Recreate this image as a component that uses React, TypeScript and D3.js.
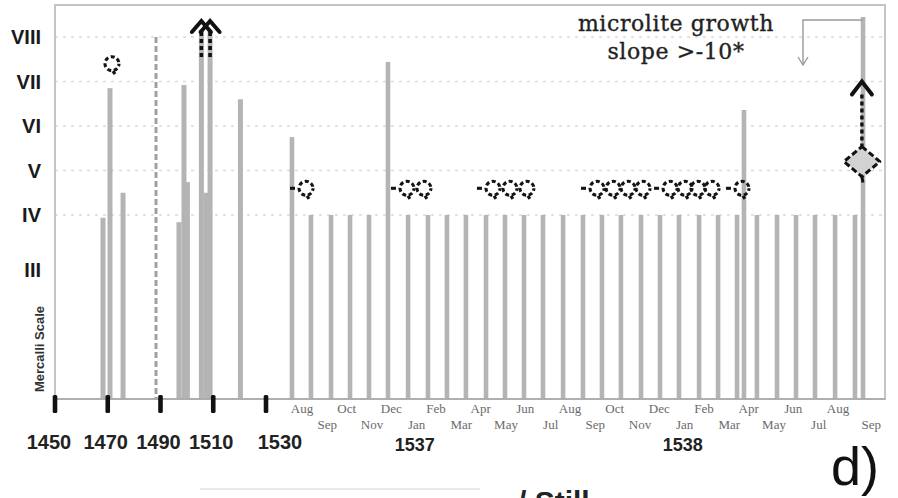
import React from "react";
import * as d3 from "d3";

// Historic eruptions (year axis) — Mercalli intensity of each event
const EARLY_YEARS = [1468.2, 1470.85, 1475.8, 1497.0, 1498.9, 1500.2, 1505.5, 1507.4, 1508.8, 1520.3];
const EARLY_LEVELS = [3.95, 6.85, 4.5, 3.87, 6.92, 4.74, 8.16, 4.5, 8.16, 6.6];
const UNCERTAIN_YEAR = 1488.3;
const UNCERTAIN_LEVEL = 8;
const RISING_YEARS = [1505.5, 1508.8];
const EARLY_ASH = [{ year: 1471.6, level: 7.4 }];

// 1536-1538 sequence (months counted from Aug 1536)
const LATE_MONTHS = [
  -0.45, 0.4, 1.3, 2.15, 3.0, 3.85, 4.75, 5.64, 6.49, 7.34, 8.24, 9.09, 9.94, 10.79, 11.69, 12.58,
  13.43, 14.28, 15.18, 16.03, 16.88, 17.78, 18.63, 19.48, 19.79, 20.37, 21.27, 22.12, 22.97, 23.87,
  24.76, 25.12,
];
const LATE_LEVELS = [
  5.75, 4, 4, 4, 4, 7.44, 4, 4, 4, 4, 4, 4, 4, 4, 4, 4,
  4, 4, 4, 4, 4, 4, 4, 4, 6.36, 4, 4, 4, 4, 4,
  4, 8.45,
];
const ASH_MONTHS = [0.18, 4.7, 5.46, 8.55, 9.31, 10.07, 13.21, 13.93, 14.6, 15.27, 16.48, 17.15, 17.73, 18.36, 19.7];
const ASH_LEVEL = 4.6;
const FINAL_MONTH = 25.07;
const FINAL_LEVEL = 5.2;
const FINAL_ARROW_LEVEL = 7;

// Axis labels
const CENTURY_TICKS = [1450, 1470, 1490, 1510, 1530];
const MONTHS = [
  "Aug", "Sep", "Oct", "Nov", "Dec", "Jan", "Feb", "Mar", "Apr", "May", "Jun", "Jul", "Aug",
  "Sep", "Oct", "Nov", "Dec", "Jan", "Feb", "Mar", "Apr", "May", "Jun", "Jul", "Aug", "Sep",
];
const YEAR_MARKS = ["1537", "1538"];
const YEAR_MARK_MONTHS = [5, 17];
const MERCALLI_VALUES = [3, 4, 5, 6, 7, 8];
const MERCALLI_LABELS = ["III", "IV", "V", "VI", "VII", "VIII"];
const GRID_VALUES = [4, 5, 6, 7, 8];

const W = 898;
const H = 498;
const LEFT = 55;
const RIGHT = 885;
const TOP = 5;
const BASE = 399;

const BAR_COLOR = "#b4b4b4";

export default function App() {
  const y = d3.scaleLinear().domain([0, 3, 4, 8]).range([BASE, 270, 215, 37]);
  const xYear = d3.scaleLinear().domain([1450, 1530]).range([LEFT, 266]);
  const xMonth = d3.scaleLinear().domain([0, 24]).range([302, 838]);

  const ashX = ASH_MONTHS.map((m) => xMonth(m));

  const ashSymbol = (cx: number, cy: number, lead: boolean, key: string) => (
    <g key={key} stroke="#141414" strokeWidth={3.1} fill="none">
      <circle cx={cx} cy={cy} r={7} strokeDasharray="4 2.6" strokeDashoffset={1.5} />
      <line x1={cx + 1} y1={cy + 7.5} x2={cx + 3} y2={cy + 10.5} />
      {lead && <line x1={cx - 16} y1={cy} x2={cx - 11} y2={cy} />}
    </g>
  );

  const chevron = (cx: number, cy: number, hw: number, hh: number) => (
    <path
      d={`M${cx - hw},${cy + hh} L${cx},${cy} L${cx + hw},${cy + hh}`}
      stroke="#111"
      strokeWidth={4}
      fill="none"
      strokeLinejoin="miter"
      strokeLinecap="round"
    />
  );

  const finalX = xMonth(FINAL_MONTH);
  const finalY = y(FINAL_LEVEL);
  const arrowTop = y(FINAL_ARROW_LEVEL);

  return (
    <svg
      width={W}
      height={H}
      style={{ position: "absolute", left: 0, top: 0, background: "#fff" }}
    >
      {/* dotted intensity gridlines */}
      {GRID_VALUES.map((v) => (
        <line
          key={`g${v}`}
          x1={LEFT}
          x2={RIGHT}
          y1={y(v)}
          y2={y(v)}
          stroke="#dadada"
          strokeWidth={1.3}
          strokeDasharray="3 5"
        />
      ))}

      {/* frame */}
      <rect x={LEFT} y={TOP} width={RIGHT - LEFT} height={BASE - TOP} fill="none" stroke="#c4c4c4" strokeWidth={2} />

      {/* uncertain event */}
      <line
        x1={xYear(UNCERTAIN_YEAR)}
        x2={xYear(UNCERTAIN_YEAR)}
        y1={y(UNCERTAIN_LEVEL)}
        y2={BASE}
        stroke="#a0a0a0"
        strokeWidth={3}
        strokeDasharray="6 3"
      />

      {/* early eruptions */}
      {EARLY_YEARS.map((yr, i) => (
        <rect
          key={`e${i}`}
          x={xYear(yr) - 2.5}
          y={y(EARLY_LEVELS[i])}
          width={5}
          height={BASE - y(EARLY_LEVELS[i])}
          fill={BAR_COLOR}
        />
      ))}

      {/* 1536-1538 eruptions */}
      {LATE_MONTHS.map((m, i) => (
        <rect
          key={`l${i}`}
          x={xMonth(m) - 2.3}
          y={y(LATE_LEVELS[i])}
          width={4.6}
          height={BASE - y(LATE_LEVELS[i])}
          fill={BAR_COLOR}
        />
      ))}

      {/* rising-intensity arrows */}
      {RISING_YEARS.map((yr, i) => {
        const cx = xYear(yr);
        return (
          <g key={`r${i}`}>
            <line x1={cx} x2={cx} y1={32} y2={60} stroke="#111" strokeWidth={3.6} strokeDasharray="4 3" />
            {chevron(cx, 21, 9.5, 11)}
          </g>
        );
      })}

      {/* ash emission symbols */}
      {EARLY_ASH.map((a, i) => ashSymbol(xYear(a.year), y(a.level), false, `ea${i}`))}
      {ashX.map((cx, i) => ashSymbol(cx, y(ASH_LEVEL), i === 0 || cx - ashX[i - 1] > 20, `a${i}`))}

      {/* final event marker */}
      <line x1={finalX} x2={finalX} y1={arrowTop + 13} y2={finalY - 14} stroke="#111" strokeWidth={3.4} strokeDasharray="4 3" />
      {chevron(finalX, arrowTop, 10, 13)}
      <path
        d={`M${finalX},${finalY - 15} L${finalX + 18},${finalY} L${finalX},${finalY + 15} L${finalX - 18},${finalY} Z`}
        fill="#d2d2d2"
        stroke="#111"
        strokeWidth={3}
        strokeDasharray="6 3"
        strokeLinejoin="round"
      />
      <line x1={finalX} x2={finalX + 1} y1={finalY + 15} y2={finalY + 21} stroke="#111" strokeWidth={3} />

      {/* microlite note */}
      <g stroke="#9a9a9a" strokeWidth={1.4} fill="none">
        <polyline points={`${xMonth(FINAL_MONTH + 0.05)},20 803,20 803,65`} />
        <polyline points="798,57 803,65 808,57" />
      </g>
      <g
        fontFamily="DejaVu Serif"
        fontSize={22}
        letterSpacing={0.6}
        fill="#222"
        stroke="#222"
        strokeWidth={0.35}
        textAnchor="middle"
      >
        <text x={676} y={31}>microlite growth</text>
        <text x={676} y={59}>slope &gt;-10*</text>
      </g>

      {/* baseline */}
      <line x1={LEFT} x2={RIGHT} y1={BASE} y2={BASE} stroke="#a9a9a9" strokeWidth={1.5} />

      {/* century ticks */}
      {CENTURY_TICKS.map((t, i) => (
        <g key={`ct${t}`}>
          <rect x={xYear(t) - 2.3} y={395} width={4.6} height={18} rx={1.5} fill="#111" />
          <text
            x={xYear(t) + (i === CENTURY_TICKS.length - 1 ? 14 : i === 0 ? -6 : -2)}
            y={449}
            textAnchor="middle"
            fontFamily="Liberation Sans, Arial, sans-serif"
            fontWeight="bold"
            fontSize={20}
            fill="#222"
          >
            {t}
          </text>
        </g>
      ))}

      {/* month labels */}
      {MONTHS.map((m, i) => (
        <text
          key={`m${i}`}
          x={xMonth(i) + (i % 2 === 1 ? 3 : 0) + (i === MONTHS.length - 1 ? 8 : 0)}
          y={i % 2 === 0 ? 413 : 429}
          textAnchor="middle"
          fontFamily="Liberation Serif, Times New Roman, serif"
          fontSize={13}
          fill="#6a6a6a"
        >
          {m}
        </text>
      ))}
      {YEAR_MARKS.map((label, i) => (
        <text
          key={`ym${label}`}
          x={xMonth(YEAR_MARK_MONTHS[i]) + 1}
          y={451}
          textAnchor="middle"
          fontFamily="Liberation Sans, Arial, sans-serif"
          fontWeight="bold"
          fontSize={18}
          fill="#222"
        >
          {label}
        </text>
      ))}

      {/* intensity axis */}
      {MERCALLI_VALUES.map((v, i) => (
        <text
          key={`mv${v}`}
          x={41}
          y={y(v) + 7}
          textAnchor="end"
          fontFamily="Liberation Sans Narrow, Liberation Sans, Arial, sans-serif"
          fontWeight="bold"
          fontSize={20}
          fill="#1a1a1a"
        >
          {MERCALLI_LABELS[i]}
        </text>
      ))}
      <text
        transform="translate(44,349) rotate(-90)"
        textAnchor="middle"
        fontFamily="Liberation Sans Narrow, Liberation Sans, Arial, sans-serif"
        fontWeight="bold"
        fontSize={13}
        fill="#333"
      >
        Mercalli Scale
      </text>

      {/* panel letter and caption */}
      <text x={831} y={485} fontFamily="Liberation Sans, Arial, sans-serif" fontSize={54} fill="#111">
        d)
      </text>
      <line x1={200} x2={480} y1={489} y2={489} stroke="#e2e2e2" strokeWidth={1.5} />
      <text x={518} y={512} fontFamily="Liberation Sans, Arial, sans-serif" fontWeight="bold" fontSize={30} fill="#222">
        / Still
      </text>
    </svg>
  );
}
